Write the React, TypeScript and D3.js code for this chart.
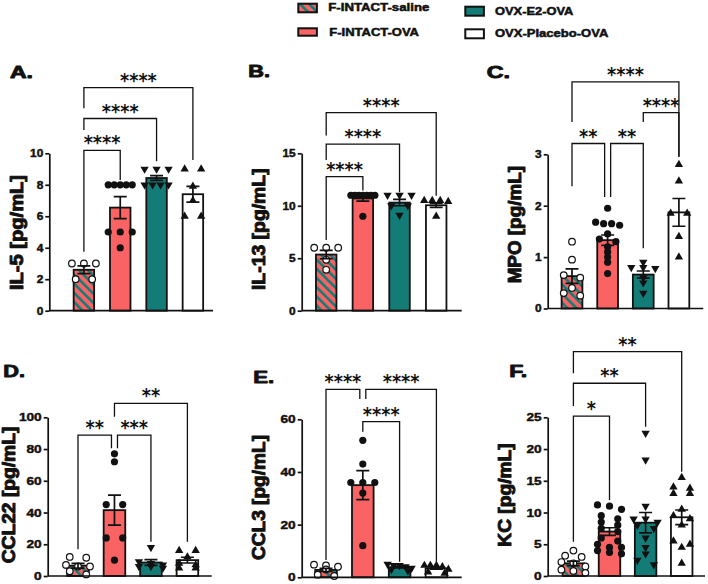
import * as React from 'react';
import * as d3 from 'd3';

const RED = '#fa6363';
const TEAL = '#137c77';
const INK = '#111';
const FONT = '"Liberation Sans", Arial, sans-serif';
const STAR_FONT = '"DejaVu Sans", sans-serif';

const groups = ['F-INTACT-saline', 'F-INTACT-OVA', 'OVX-E2-OVA', 'OVX-Placebo-OVA'];

// A. IL-5
const il5Mean = [2.6, 6.55, 8.43, 7.4];
const il5Sem = [0.25, 0.7, 0.15, 0.5];
const il5Points = [
  [3, 3, 3, 2, 2],
  [8, 8, 8, 8, 8, 5, 5, 5, 4],
  [9, 9, 9, 8, 8, 8, 8],
  [9, 9, 7.9, 7, 6, 6],
];
const il5Ticks = [0, 2, 4, 6, 8, 10];
const il5Stars = [
  { from: 0, to: 3, y: 14.17, legs: [12.86, 9.57], label: '****' },
  { from: 0, to: 2, y: 12.21, legs: [11.48, 9.5], label: '****' },
  { from: 0, to: 1, y: 10.18, legs: [3.75, 8.3], label: '****' },
];

// B. IL-13
const il13Mean = [5.35, 10.7, 10.3, 10.05];
const il13Sem = [0.4, 0.25, 0.3, 0.2];
const il13Points = [
  [6, 6, 6, 4.85, 3.9],
  [11, 11, 11, 11, 11, 11, 11, 9],
  [11, 11, 11, 10, 10, 9.1],
  [10.5, 10.5, 10.5, 10.4, 9],
];
const il13Ticks = [0, 5, 10, 15];
const il13Stars = [
  { from: 0, to: 3, y: 18.88, legs: [16.7, 10.95], label: '****' },
  { from: 0, to: 2, y: 15.87, legs: [14.35, 11.3], label: '****' },
  { from: 0, to: 1, y: 12.78, legs: [6.74, 11.45], label: '****' },
];

// C. MPO
const mpoMean = [0.63, 1.33, 0.66, 1.87];
const mpoSem = [0.14, 0.1, 0.07, 0.27];
const mpoPoints = [
  [1.3, 0.95, 0.65, 0.6, 0.4, 0.3, 0.25],
  [1.95, 1.68, 1.65, 1.65, 1.62, 1.45, 1.35, 1.3, 1.2, 1.1, 1.0, 0.9, 0.68],
  [0.9, 0.8, 0.8, 0.78, 0.6, 0.5, 0.3],
  [2.8, 2.48, 1.85, 1.85, 1.4, 1.0],
];
const mpoTicks = [0, 1, 2, 3];
const mpoStars = [
  { from: 0, to: 3, y: 4.41, legs: [3.63, 2.95], label: '****' },
  { from: 2, to: 3, y: 3.81, legs: [3.63, 2.95], label: '****' },
  { from: 0, to: 1, y: 3.21, legs: [2.38, 2.17], label: '**' },
  { from: 1, to: 2, y: 3.21, legs: [2.17, 1.17], label: '**' },
];

// D. CCL22
const ccl22Mean = [6.5, 41.5, 8.5, 10];
const ccl22Sem = [1.5, 9.5, 1.8, 1.8];
const ccl22Points = [
  [12, 11.5, 7, 6, 6, 3, 1],
  [77, 72, 45, 45, 24, 24, 10],
  [18, 9, 8, 7, 6, 6, 5],
  [16, 16, 12, 8, 7, 5, 5],
];
const ccl22Ticks = [0, 20, 40, 60, 80, 100];
const ccl22Stars = [
  { from: 1, to: 3, y: 108.8, legs: [100.4, 21.6], label: '**' },
  { from: 0, to: 1, y: 88.8, legs: [16.8, 80.5], label: '**' },
  { from: 1, to: 2, y: 88.8, legs: [80.5, 21.6], label: '***' },
];

// E. CCL3
const ccl3Mean = [2.8, 35, 3.85, 3.4];
const ccl3Sem = [0.6, 5.5, 0.3, 0.35];
const ccl3Points = [
  [4.8, 4.5, 4, 3, 1, 0.5],
  [52, 43, 36, 36, 36, 32, 12],
  [5, 4.5, 4.5, 4, 3.5, 3, 2.5],
  [4.5, 4.5, 4.5, 4, 3, 2, 1.5],
];
const ccl3Ticks = [0, 20, 40, 60];
const ccl3Stars = [
  { from: 0, to: 1, y: 71.4, legs: [6.57, 67.7], label: '****' },
  { from: 1, to: 3, y: 71.4, legs: [67.7, 5.92], label: '****' },
  { from: 1, to: 2, y: 59.1, legs: [55.3, 5.92], label: '****' },
];

// F. KC
const kcMean = [2.0, 7.0, 8.4, 9.25];
const kcSem = [0.35, 0.6, 1.6, 1.15];
const kcPoints = [
  [4, 3.2, 3, 2.2, 2, 1.5, 1, 0.8, 0.5],
  [11.2, 11, 10.5, 9.5, 9, 8.5, 8, 7.5, 7, 6, 5.5, 5, 4.5, 4.5, 4, 3.7, 3.5],
  [22.5, 18.3, 11, 9, 9, 8.5, 8, 7.5, 6, 4.5, 3.5, 2.5, 1.8],
  [15.5, 14, 13.8, 13, 13, 10.5, 9.5, 9, 8, 5.5, 5, 4.5, 2],
];
const kcTicks = [0, 5, 10, 15, 20, 25];
const kcStars = [
  { from: 0, to: 3, y: 35.34, legs: [31.94, 16.43], label: '**' },
  { from: 0, to: 2, y: 30.36, legs: [26.78, 23.52], label: '**' },
  { from: 0, to: 1, y: 25.2, legs: [5.4, 11.97], label: '*' },
];

interface Star {
  from: number;
  to: number;
  y: number;
  legs: number[];
  label: string;
}

interface Layout {
  axisX: number;
  axisEnd: number;
  y0: number;
  yTop: number;
  c0: number;
  c3: number;
  barW: number;
  tickFont: number;
  digitW: number;
  title: { x: number; y: number; w: number };
  label: { x: number; y: number; len: number };
}

const panels = [
  {
    letter: 'A.', ylabel: 'IL-5 [pg/mL]', mean: il5Mean, sem: il5Sem, points: il5Points, ticks: il5Ticks, stars: il5Stars,
    layout: { axisX: 49.3, axisEnd: 213, y0: 310.7, yTop: 153.3, c0: 83.9, c3: 192.9, barW: 22.3, tickFont: 10.5, digitW: 6.6,
      title: { x: 10, y: 78.3, w: 23 }, label: { x: 23, y: 232.5, len: 115 } },
  },
  {
    letter: 'B.', ylabel: 'IL-13 [pg/mL]', mean: il13Mean, sem: il13Sem, points: il13Points, ticks: il13Ticks, stars: il13Stars,
    layout: { axisX: 301.7, axisEnd: 461.7, y0: 310.7, yTop: 153.3, c0: 326.2, c3: 436.2, barW: 22.3, tickFont: 10.5, digitW: 6.6,
      title: { x: 248.3, y: 77.3, w: 21.7 }, label: { x: 264.6, y: 229.2, len: 121.7 } },
  },
  {
    letter: 'C.', ylabel: 'MPO [pg/mL]', mean: mpoMean, sem: mpoSem, points: mpoPoints, ticks: mpoTicks, stars: mpoStars,
    layout: { axisX: 547.7, axisEnd: 703.3, y0: 308.5, yTop: 154.3, c0: 572, c3: 678.9, barW: 22.6, tickFont: 10.5, digitW: 6.6,
      title: { x: 486.7, y: 78.3, w: 23.3 }, label: { x: 521.3, y: 224.7, len: 117.3 } },
  },
  {
    letter: 'D.', ylabel: 'CCL22 [pg/mL]', mean: ccl22Mean, sem: ccl22Sem, points: ccl22Points, ticks: ccl22Ticks, stars: ccl22Stars,
    layout: { axisX: 47.7, axisEnd: 211.7, y0: 576, yTop: 417.3, c0: 78, c3: 187.4, barW: 23.4, tickFont: 11.5, digitW: 7.6,
      title: { x: 3.3, y: 377.3, w: 21.7 }, label: { x: 14.6, y: 495, len: 136.6 } },
  },
  {
    letter: 'E.', ylabel: 'CCL3 [pg/mL]', mean: ccl3Mean, sem: ccl3Sem, points: ccl3Points, ticks: ccl3Ticks, stars: ccl3Stars,
    layout: { axisX: 301.7, axisEnd: 461.7, y0: 577.3, yTop: 419.3, c0: 326, c3: 436.4, barW: 23.4, tickFont: 11.5, digitW: 7.6,
      title: { x: 253.3, y: 382.7, w: 21 }, label: { x: 264.6, y: 497.5, len: 125 } },
  },
  {
    letter: 'F.', ylabel: 'KC [pg/mL]', mean: kcMean, sem: kcSem, points: kcPoints, ticks: kcTicks, stars: kcStars,
    layout: { axisX: 547.7, axisEnd: 705, y0: 576, yTop: 417.3, c0: 573.4, c3: 681.7, barW: 23.3, tickFont: 11.5, digitW: 7.6,
      title: { x: 509.3, y: 376.7, w: 18 }, label: { x: 511.3, y: 495, len: 103.4 } },
  },
];

const fills = ['url(#hatch)', RED, TEAL, '#fff'];

// spread equal-ish values sideways the way the scatter-on-bar plots do
function spread(vals: number[], y: (v: number) => number) {
  const sorted = vals.map((v) => ({ v, py: y(v) })).sort((a, b) => a.py - b.py);
  const rows: { py: number; items: number[] }[] = [];
  sorted.forEach((p) => {
    const last = rows[rows.length - 1];
    if (last && p.py - last.py < 4.5) last.items.push(p.v);
    else rows.push({ py: p.py, items: [p.v] });
  });
  const out: { v: number; dx: number }[] = [];
  rows.forEach((r) => {
    const k = r.items.length;
    const s = k > 1 ? Math.min(16.5, 24 / (k - 1)) : 0;
    r.items.forEach((v, j) => out.push({ v, dx: (j - (k - 1) / 2) * s }));
  });
  return out;
}

// heavy text: bold face plus a thin outline of the same colour
function heavy(sel: d3.Selection<SVGTextElement, any, any, any>, w: number) {
  sel.attr('stroke', INK).attr('stroke-width', w).attr('stroke-linejoin', 'round');
}

const App = () => {
  const ref = React.useRef<SVGSVGElement>(null);

  React.useEffect(() => {
    const svg = d3.select(ref.current);
    svg.selectAll('*').remove();

    const pat = svg
      .append('defs')
      .append('pattern')
      .attr('id', 'hatch')
      .attr('patternUnits', 'userSpaceOnUse')
      .attr('width', 6.5)
      .attr('height', 6.5)
      .attr('patternTransform', 'rotate(-45)');
    pat.append('rect').attr('width', 6.5).attr('height', 6.5).attr('fill', RED);
    pat.append('rect').attr('width', 2.6).attr('height', 6.5).attr('fill', TEAL);

    // legend
    const legendPos = [
      { x: 297.3, y: 2.7, h: 10.6, tx: 328.3, ty: 11.4, tl: 101 },
      { x: 297.3, y: 27.3, h: 9.4, tx: 329.3, ty: 35.7, tl: 89.7 },
      { x: 464.3, y: 5.7, h: 11, tx: 495, ty: 15.1, tl: 78.3 },
      { x: 464.3, y: 28.3, h: 11, tx: 495, ty: 37.4, tl: 113.3 },
    ];
    const legend = svg.append('g');
    groups.forEach((name, i) => {
      const p = legendPos[i];
      legend
        .append('rect')
        .attr('x', p.x + 1)
        .attr('y', p.y + 1)
        .attr('width', 18.6)
        .attr('height', p.h - 2)
        .attr('fill', fills[i])
        .attr('stroke', INK)
        .attr('stroke-width', 2);
      const t = legend
        .append('text')
        .attr('x', p.tx)
        .attr('y', p.ty)
        .attr('font-family', FONT)
        .attr('font-weight', 'bold')
        .attr('font-size', 10.5)
        .attr('fill', INK)
        .attr('textLength', p.tl)
        .attr('lengthAdjust', 'spacingAndGlyphs')
        .text(name);
      heavy(t, 0.5);
    });

    panels.forEach((panel) => {
      const L: Layout = panel.layout;
      const g = svg.append('g');
      const y = d3
        .scaleLinear()
        .domain([0, panel.ticks[panel.ticks.length - 1]])
        .range([L.y0, L.yTop]);
      const x = d3.scalePoint<number>().domain([0, 1, 2, 3]).range([L.c0, L.c3]);

      // title letter
      const title = g
        .append('text')
        .attr('x', L.title.x)
        .attr('y', L.title.y)
        .attr('font-family', FONT)
        .attr('font-weight', 'bold')
        .attr('font-size', 16.5)
        .attr('fill', INK)
        .attr('textLength', L.title.w)
        .attr('lengthAdjust', 'spacingAndGlyphs')
        .text(panel.letter);
      heavy(title, 0.9);

      // y label
      const lab = g
        .append('text')
        .attr('transform', `translate(${L.label.x},${L.label.y}) rotate(-90)`)
        .attr('text-anchor', 'middle')
        .attr('font-family', FONT)
        .attr('font-weight', 'bold')
        .attr('font-size', 17.5)
        .attr('fill', INK)
        .attr('textLength', L.label.len)
        .attr('lengthAdjust', 'spacingAndGlyphs')
        .text(panel.ylabel);
      heavy(lab, 0.9);

      // bars
      g.selectAll('rect.bar')
        .data(panel.mean)
        .join('rect')
        .attr('class', 'bar')
        .attr('x', (_, i) => (x(i) as number) - (L.barW - 1.8) / 2)
        .attr('y', (d) => y(d))
        .attr('width', L.barW - 1.8)
        .attr('height', (d) => L.y0 - y(d))
        .attr('fill', (_, i) => fills[i])
        .attr('stroke', INK)
        .attr('stroke-width', 1.8);

      // points
      panel.points.forEach((vals, i) => {
        const cx = x(i) as number;
        const pts = spread(vals, y);
        if (i < 2) {
          g.selectAll(`circle.p${i}`)
            .data(pts)
            .join('circle')
            .attr('class', `p${i}`)
            .attr('cx', (d) => cx + d.dx)
            .attr('cy', (d) => y(d.v))
            .attr('r', i === 0 ? 3.3 : 3.6)
            .attr('fill', i === 0 ? '#fff' : INK)
            .attr('stroke', INK)
            .attr('stroke-width', i === 0 ? 1.2 : 0);
        } else {
          const sym = d3.symbol().type(d3.symbolTriangle).size(30);
          g.selectAll(`path.p${i}`)
            .data(pts)
            .join('path')
            .attr('class', `p${i}`)
            .attr('d', sym())
            .attr('transform', (d) => `translate(${cx + d.dx},${y(d.v)}) rotate(${i === 2 ? 180 : 0})`)
            .attr('fill', INK);
        }
      });

      // error bars (mean +/- SEM)
      panel.mean.forEach((m, i) => {
        const cx = x(i) as number;
        const s = panel.sem[i];
        const lo = y(m - s);
        const hi = y(m + s);
        g.append('path')
          .attr('d', `M${cx},${lo}V${hi}M${cx - 6.5},${hi}H${cx + 6.5}M${cx - 6.5},${lo}H${cx + 6.5}`)
          .attr('fill', 'none')
          .attr('stroke', INK)
          .attr('stroke-width', 1.7);
      });

      // axes
      const ga = g
        .append('g')
        .attr('transform', `translate(${L.axisX},0)`)
        .call(
          d3
            .axisLeft(y)
            .tickValues(panel.ticks)
            .tickSize(4)
            .tickSizeOuter(0)
            .tickPadding(2)
            .tickFormat(d3.format('d'))
        );
      ga.select('.domain').attr('stroke', INK).attr('stroke-width', 1.7);
      ga.selectAll('.tick line').attr('stroke', INK).attr('stroke-width', 1.7);
      const tt = ga
        .selectAll<SVGTextElement, number>('.tick text')
        .attr('font-family', FONT)
        .attr('font-weight', 'bold')
        .attr('font-size', L.tickFont)
        .attr('fill', INK)
        .attr('textLength', (d) => String(d).length * L.digitW)
        .attr('lengthAdjust', 'spacingAndGlyphs');
      heavy(tt, 0.45);

      g.append('line')
        .attr('x1', L.axisX)
        .attr('x2', L.axisEnd)
        .attr('y1', L.y0)
        .attr('y2', L.y0)
        .attr('stroke', INK)
        .attr('stroke-width', 1.7);

      // significance brackets
      const stars: Star[] = panel.stars;
      stars.forEach((b) => {
        const sameLevel = stars.filter((o) => o !== b && Math.abs(o.y - b.y) < 1e-6);
        let x1 = x(b.from) as number;
        let x2 = x(b.to) as number;
        if (sameLevel.some((o) => o.to === b.from)) x1 += 3;
        if (sameLevel.some((o) => o.from === b.to)) x2 -= 3;
        const yb = y(b.y);
        g.append('path')
          .attr('d', `M${x1},${y(b.legs[0])}V${yb}H${x2}V${y(b.legs[1])}`)
          .attr('fill', 'none')
          .attr('stroke', INK)
          .attr('stroke-width', 1.3);
        g.append('text')
          .attr('x', (x1 + x2) / 2)
          .attr('y', yb - 1)
          .attr('text-anchor', 'middle')
          .attr('font-family', STAR_FONT)
          .attr('font-weight', 'bold')
          .attr('font-size', 19)
          .attr('fill', INK)
          .attr('textLength', b.label.length * 9.2)
          .attr('lengthAdjust', 'spacingAndGlyphs')
          .text(b.label);
      });
    });
  }, []);

  return (
    <svg
      ref={ref}
      width={708}
      height={584}
      style={{ position: 'absolute', left: 0, top: 0, background: '#fff' }}
    />
  );
};

export default App;
